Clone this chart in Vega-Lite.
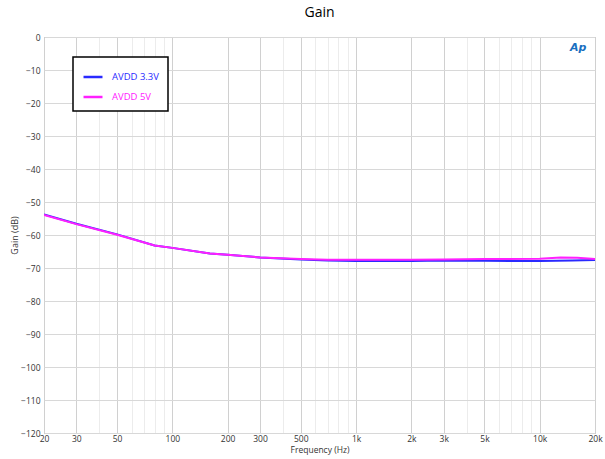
{
  "$schema": "https://vega.github.io/schema/vega-lite/v6.json",
  "autosize": {"type": "none"},
  "width": 551,
  "height": 396,
  "padding": {"left": 44, "top": 37, "right": 10, "bottom": 26},
  "background": "white",
  "title": {"text": "Gain", "fontSize": 14, "font": "Open Sans", "fontWeight": "normal", "color": "#000", "offset": 13},
  "config": {
    "view": {"stroke": "#a0a0a0", "strokeWidth": 1},
    "font": "Open Sans",
    "axis": {"labelFont": "Open Sans", "titleFont": "Open Sans", "labelFontSize": 9, "titleFontSize": 9, "labelColor": "#333", "titleColor": "#333", "titleFontWeight": "normal", "ticks": false, "domain": false},
    "legend": {"strokeColor": "#000", "strokeWidth": 1.5, "fillColor": "#fff"}
  },
  "datasets": {
    "gain": [
      {"f": 20, "g": -53.8, "s": "AVDD 3.3V"},
      {"f": 30, "g": -56.6, "s": "AVDD 3.3V"},
      {"f": 50, "g": -59.8, "s": "AVDD 3.3V"},
      {"f": 80, "g": -63.2, "s": "AVDD 3.3V"},
      {"f": 100, "g": -63.9, "s": "AVDD 3.3V"},
      {"f": 160, "g": -65.6, "s": "AVDD 3.3V"},
      {"f": 200, "g": -66.0, "s": "AVDD 3.3V"},
      {"f": 300, "g": -66.8, "s": "AVDD 3.3V"},
      {"f": 500, "g": -67.4, "s": "AVDD 3.3V"},
      {"f": 700, "g": -67.7, "s": "AVDD 3.3V"},
      {"f": 1000, "g": -67.9, "s": "AVDD 3.3V"},
      {"f": 2000, "g": -67.9, "s": "AVDD 3.3V"},
      {"f": 3000, "g": -67.7, "s": "AVDD 3.3V"},
      {"f": 5000, "g": -67.8, "s": "AVDD 3.3V"},
      {"f": 10000, "g": -67.9, "s": "AVDD 3.3V"},
      {"f": 15000, "g": -67.7, "s": "AVDD 3.3V"},
      {"f": 20000, "g": -67.6, "s": "AVDD 3.3V"},
      {"f": 20, "g": -53.9, "s": "AVDD 5V"},
      {"f": 30, "g": -56.7, "s": "AVDD 5V"},
      {"f": 50, "g": -59.9, "s": "AVDD 5V"},
      {"f": 80, "g": -63.2, "s": "AVDD 5V"},
      {"f": 100, "g": -63.9, "s": "AVDD 5V"},
      {"f": 160, "g": -65.6, "s": "AVDD 5V"},
      {"f": 200, "g": -66.0, "s": "AVDD 5V"},
      {"f": 300, "g": -66.8, "s": "AVDD 5V"},
      {"f": 500, "g": -67.3, "s": "AVDD 5V"},
      {"f": 700, "g": -67.5, "s": "AVDD 5V"},
      {"f": 1000, "g": -67.5, "s": "AVDD 5V"},
      {"f": 2000, "g": -67.5, "s": "AVDD 5V"},
      {"f": 3000, "g": -67.4, "s": "AVDD 5V"},
      {"f": 5000, "g": -67.3, "s": "AVDD 5V"},
      {"f": 10000, "g": -67.2, "s": "AVDD 5V"},
      {"f": 13000, "g": -66.8, "s": "AVDD 5V"},
      {"f": 16000, "g": -66.9, "s": "AVDD 5V"},
      {"f": 20000, "g": -67.3, "s": "AVDD 5V"}
    ],
    "logo": [{"f": 16200, "g": -3.4, "t": "Ap"}]
  },
  "encoding": {
    "x": {
      "field": "f", "type": "quantitative",
      "scale": {"type": "log", "domain": [20, 20000], "nice": false},
      "axis": {
        "title": "Frequency (Hz)",
        "titlePadding": 3,
        "labelPadding": 1,
        "labelFontSize": 8.5,
        "titleFontSize": 8.5,
        "values": [20,30,40,50,60,70,80,90,100,200,300,400,500,600,700,800,900,1000,2000,3000,4000,5000,6000,7000,8000,9000,10000,20000],
        "labelExpr": "indexof([20,30,50,100,200,300,500,1000,2000,3000,5000,10000,20000], datum.value) >= 0 ? (datum.value >= 1000 ? (datum.value/1000) + 'k' : datum.value + '') : ''",
        "labelOverlap": false,
        "labelFlush": false,
        "grid": true,
        "gridColor": {"condition": {"test": "indexof([20,30,50,100,200,300,500,1000,2000,3000,5000,10000,20000], datum.value) >= 0", "value": "#d0d0d0"}, "value": "#ececec"}
      }
    },
    "y": {
      "field": "g", "type": "quantitative",
      "scale": {"domain": [-120, 0], "nice": false},
      "axis": {"title": "Gain (dB)", "values": [0,-10,-20,-30,-40,-50,-60,-70,-80,-90,-100,-110,-120], "labelOverlap": false, "labelPadding": 4, "titlePadding": 1, "grid": true, "gridColor": "#d8d8d8", "labelFontSize": 8.5}
    }
  },
  "layer": [
    {
      "data": {"name": "gain"},
      "mark": {"type": "line", "strokeWidth": 2, "clip": true},
      "encoding": {
        "color": {
          "field": "s", "type": "nominal",
          "scale": {"domain": ["AVDD 3.3V", "AVDD 5V"], "range": ["#2a2aff", "#ff20ff"]},
          "legend": {
            "title": null,
            "orient": "none",
            "legendX": 29,
            "legendY": 20,
            "padding": 9,
            "symbolType": "stroke",
            "symbolSize": 360,
            "symbolStrokeWidth": 2.5,
            "labelFontSize": 9.5,
            "labelFont": "Open Sans",
            "labelOffset": 8,
            "rowPadding": 4,
            "labelLimit": 200,
            "encode": {"labels": {"update": {"fill": {"signal": "datum.value === 'AVDD 5V' ? '#ff20ff' : '#2a2aff'"}}}}
          }
        }
      }
    },
    {
      "data": {"name": "logo"},
      "mark": {"type": "text", "fontStyle": "italic", "fontWeight": "bold", "fontSize": 11, "color": "#1a6fc0", "font": "DejaVu Sans"},
      "encoding": {
        "text": {"field": "t"}
      }
    }
  ]
}
